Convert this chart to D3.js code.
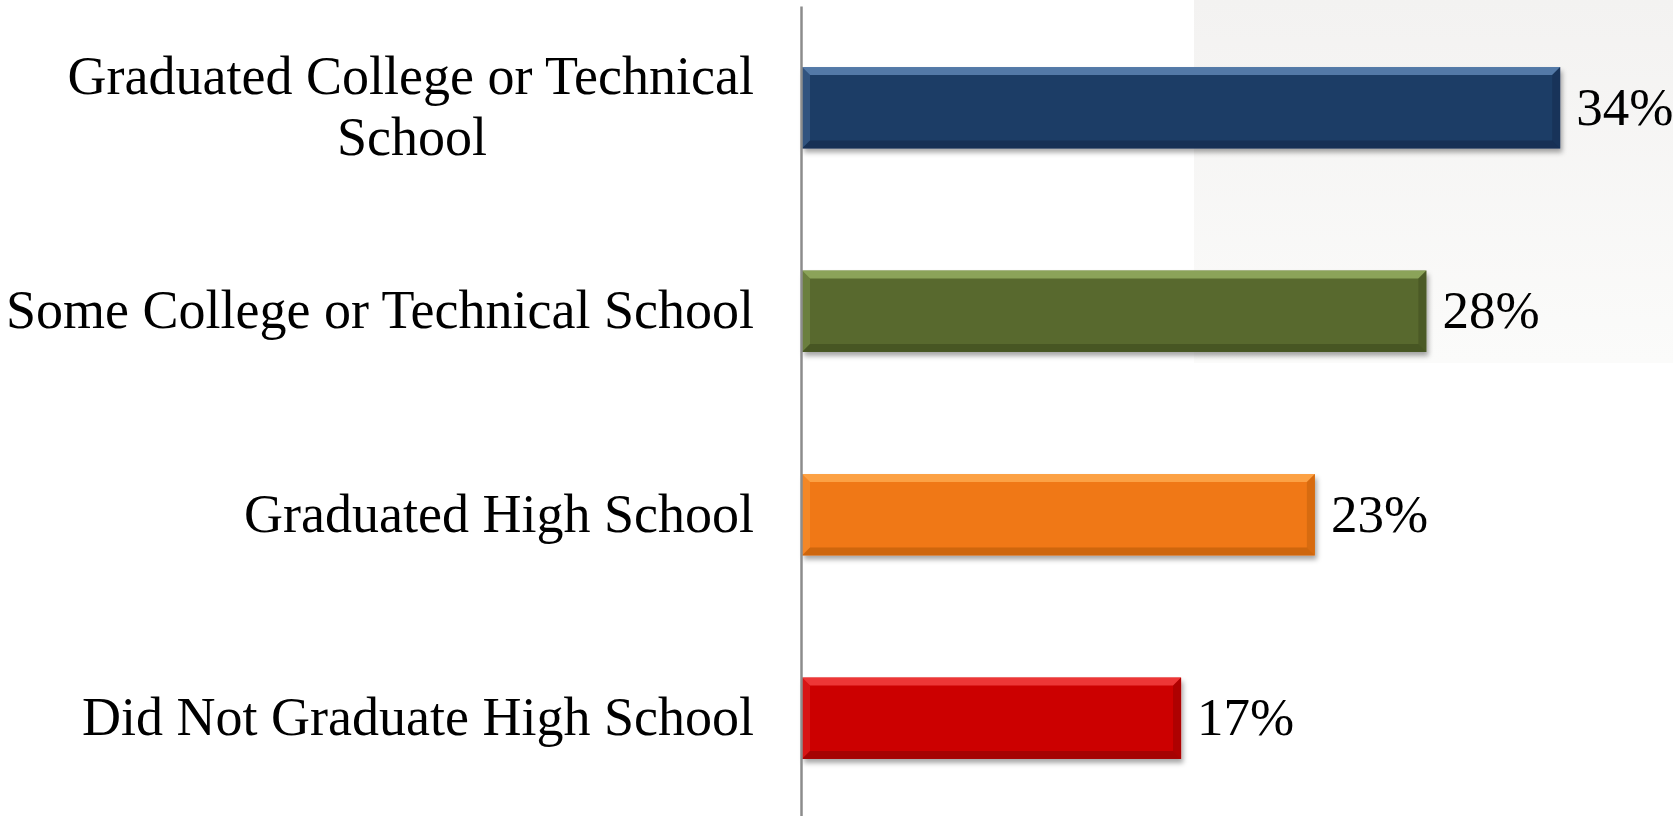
<!DOCTYPE html>
<html>
<head>
<meta charset="utf-8">
<script src="https://cdn.jsdelivr.net/npm/d3@7"></script>
<style>
  html, body { margin: 0; padding: 0; background: #ffffff; overflow: hidden; }
  text { font-family: "Liberation Serif", "Times New Roman", serif; fill: #000; }
</style>
</head>
<body>
<div class="chart"></div>
<script>
// Dati del grafico
const categories = [
  ["Graduated College or Technical", "School"],
  ["Some College or Technical School"],
  ["Graduated High School"],
  ["Did Not Graduate High School"]
];
const values = [0.34, 0.28, 0.23, 0.17];
const valueLabels = ["34%", "28%", "23%", "17%"];
const barColors = ["#1f3d66", "#58692d", "#f07812", "#cc0606"];
const lightColors = ["#6288b8", "#98b264", "#ffab50", "#f54444"];
const darkColors = ["#14284a", "#3c4a1c", "#b85a08", "#8a0303"];

const width = 1673;
const height = 816;

const svg = d3.select('.chart')
    .append('svg')
    .attr('width', width)
    .attr('height', height);

const defs = svg.append('defs');

// sfondo grigio chiaro in alto a destra
const bgGrad = defs.append('linearGradient')
    .attr('id', 'bgGrad').attr('x1', 0).attr('y1', 0).attr('x2', 0).attr('y2', 1);
bgGrad.append('stop').attr('offset', '0%').attr('stop-color', '#f3f2f1');
bgGrad.append('stop').attr('offset', '100%').attr('stop-color', '#fbfbfa');

svg.append('rect')
    .attr('x', 1194).attr('y', 0)
    .attr('width', width - 1194).attr('height', 363)
    .attr('fill', 'url(#bgGrad)');

// ombra delle barre
const shadow = defs.append('filter')
    .attr('id', 'shadow')
    .attr('x', '-5%').attr('y', '-20%').attr('width', '115%').attr('height', '160%');
shadow.append('feDropShadow')
    .attr('dx', 2).attr('dy', 4).attr('stdDeviation', 2.5)
    .attr('flood-color', '#000').attr('flood-opacity', 0.35);

// Scale
const x = d3.scaleLinear()
    .domain([0, 0.40])
    .range([802, 802 + 0.40 * 2230]);

const y = d3.scaleBand()
    .domain(d3.range(categories.length))
    .range([6, 820])
    .paddingInner(0.6)
    .paddingOuter(0.3);

// Barre
const bev = 8;
const bars = svg.append('g')
    .selectAll('g')
    .data(values)
    .join('g');

bars.each(function(d, i) {
    const g = d3.select(this);
    const x0 = x(0), x1 = x(d);
    const y0 = y(i), y1 = y(i) + y.bandwidth();

    g.append('rect')
        .attr('x', x0).attr('y', y0)
        .attr('width', x1 - x0).attr('height', y1 - y0)
        .attr('fill', barColors[i])
        .attr('filter', 'url(#shadow)');

    // smussatura: sopra e sinistra chiare, sotto e destra scure
    g.append('path')
        .attr('d', `M${x0},${y0}L${x1},${y0}L${x1 - bev},${y0 + bev}L${x0 + bev},${y0 + bev}Z`)
        .attr('fill', lightColors[i]).attr('opacity', 0.8);
    g.append('path')
        .attr('d', `M${x0},${y0}L${x0 + bev},${y0 + bev}L${x0 + bev},${y1 - bev}L${x0},${y1}Z`)
        .attr('fill', lightColors[i]).attr('opacity', 0.3);
    g.append('path')
        .attr('d', `M${x1},${y0}L${x1},${y1}L${x1 - bev},${y1 - bev}L${x1 - bev},${y0 + bev}Z`)
        .attr('fill', darkColors[i]).attr('opacity', 0.45);
    g.append('path')
        .attr('d', `M${x0},${y1}L${x1},${y1}L${x1 - bev},${y1 - bev}L${x0 + bev},${y1 - bev}Z`)
        .attr('fill', darkColors[i]).attr('opacity', 0.6);
});

// Etichette dei valori
svg.append('g')
    .selectAll('text')
    .data(values)
    .join('text')
    .attr('x', d => x(d) + 16)
    .attr('y', (d, i) => y(i) + y.bandwidth() / 2 + 17)
    .attr('font-size', 53)
    .text((d, i) => valueLabels[i]);

// Asse verticale
const axis = svg.append('g')
    .attr('transform', `translate(801,0)`)
    .call(d3.axisLeft(y).tickSize(0).tickFormat(''));
axis.select('.domain')
    .attr('stroke', '#8c8c8c')
    .attr('stroke-width', 2.5);

// Etichette delle categorie
const lineH = 61;
const labels = svg.append('g')
    .selectAll('text')
    .data(categories)
    .join('text')
    .attr('font-size', 54)
    .attr('y', (d, i) => y(i) + y.bandwidth() / 2 + 17 - (d.length - 1) * lineH / 2);

labels.each(function(lines) {
    const t = d3.select(this);
    lines.forEach((line, j) => {
        t.append('tspan')
            .attr('x', j === 0 ? 754 : 412)
            .attr('text-anchor', j === 0 ? 'end' : 'middle')
            .attr('dy', j === 0 ? 0 : lineH)
            .text(line);
    });
});
</script>
</body>
</html>
